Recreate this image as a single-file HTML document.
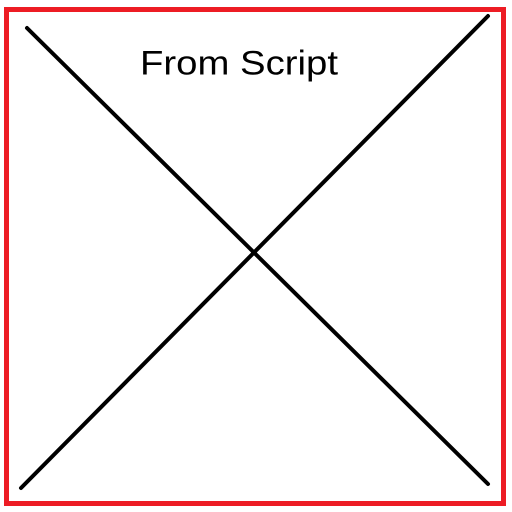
<!DOCTYPE html>
<html><head><meta charset="utf-8"><style>html,body{margin:0;padding:0;background:#fff;width:512px;height:512px;overflow:hidden}</style></head>
<body>
<svg width="512" height="512" viewBox="0 0 512 512">
<rect x="6.5" y="9.5" width="497" height="494" fill="none" stroke="#ed1c24" stroke-width="5"/>
<line x1="27" y1="28" x2="488" y2="484" stroke="#000" stroke-width="4" stroke-linecap="round"/>
<line x1="21" y1="488" x2="488" y2="16" stroke="#000" stroke-width="4" stroke-linecap="round"/>
<text x="140" y="74.5" font-family="Liberation Sans, sans-serif" font-size="34" textLength="198" lengthAdjust="spacingAndGlyphs" fill="#000">From Script</text>
</svg>
</body></html>
